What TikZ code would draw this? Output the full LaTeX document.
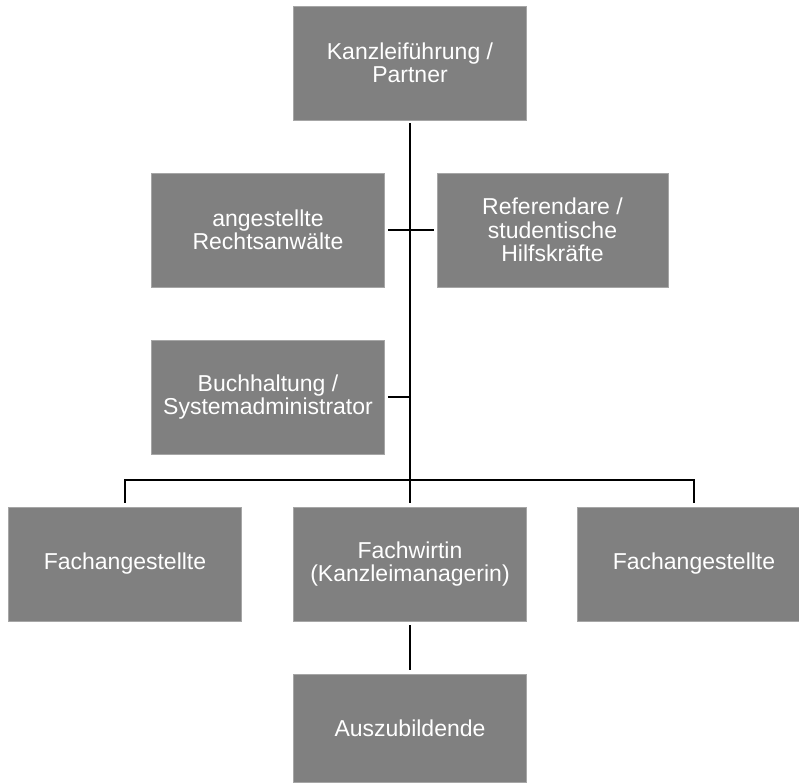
\documentclass[tikz,border=0pt]{standalone}
\usepackage{fontspec}
\setmainfont{Liberation Sans}
\usetikzlibrary{calc}
\definecolor{boxgray}{RGB}{128,128,128}
\begin{document}
\begin{tikzpicture}[x=1pt,y=-1pt,
  box/.style={fill=boxgray, draw=boxgray!70!white, line width=0.6pt, text=white,
    minimum width=233pt, minimum height=114pt, inner sep=0pt, align=center,
    font=\fontsize{23}{23.5}\selectfont},
  conn/.style={line width=1.6pt, black}]
\useasboundingbox (0,0) rectangle (799,782);
\clip (0,0) rectangle (799,782);
\node[box] (top) at (410,63) {Kanzleiführung /\\Partner};
\node[box] (law) at (268,230) {angestellte\\Rechtsanwälte};
\node[box, minimum width=231pt] (ref) at (552.5,230) {Referendare /\\studentische\\Hilfskräfte};
\node[box] (buch) at (268,397) {Buchhaltung /\\Systemadministrator};
\node[box] (fa1) at (125,564) {Fachangestellte};
\node[box] (fw) at (410,564) {Fachwirtin\\(Kanzleimanagerin)};
\node[box] (fa2) at (694,564) {Fachangestellte};
\node[box, minimum height=108pt] (azubi) at (410,728) {Auszubildende};
\coordinate (j) at (410,480);
\draw[conn, shorten <=3pt] (top.south) -- (j);
\draw[conn, shorten <=3pt, shorten >=3pt] (law.east) -- (ref.west);
\draw[conn, shorten <=3pt] (buch.east) -- (buch.east -| top.south);
\draw[conn] ($(fa1.north)+(0,-4)$) |- (j) -| ($(fa2.north)+(0,-4)$);
\draw[conn] ($(fw.north)+(0,-4)$) -- (j);
\draw[conn, shorten <=4pt, shorten >=4pt] (fw.south) -- (azubi.north);
\end{tikzpicture}
\end{document}
